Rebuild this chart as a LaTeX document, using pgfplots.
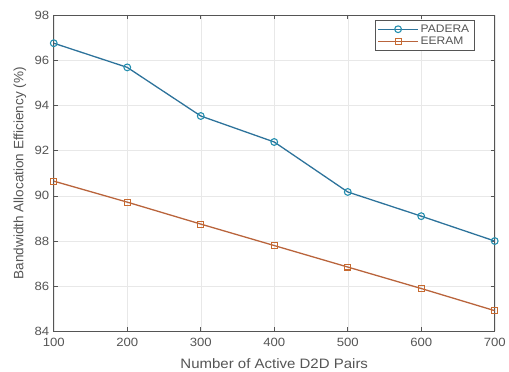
\documentclass[border=0pt]{standalone}
\usepackage{pgfplots}
\pgfplotsset{compat=1.18}
\usepackage{fontspec}
\setmainfont{Liberation Sans}[FakeStretch=1.1]
\newfontfamily\yfont{Liberation Sans}
\definecolor{mblue}{RGB}{45,115,155}
\definecolor{morange}{RGB}{185,100,60}
\definecolor{tickgray}{RGB}{85,85,85}
\begin{document}
\begin{tikzpicture}
\begin{axis}[
  scale only axis,
  width=443pt, height=318pt,
  xmin=100, xmax=700, ymin=84, ymax=98,
  xtick={100,200,...,700}, ytick={84,86,...,98},
  grid=major,
  grid style={draw=gray!18, line width=0.4pt},
  axis line style={draw=tickgray, line width=0.6pt},
  tick style={draw=tickgray, line width=0.6pt},
  major tick length=4pt,
  tick align=inside,
  ticklabel style={font=\fontsize{12}{14}\selectfont, text=tickgray},
  xticklabel style={yshift=-3.5pt},
  yticklabel style={xshift=-1pt},
  /pgf/number format/assume math mode=true,
  xlabel={Number of Active D2D Pairs},
  ylabel={\yfont\fontsize{13.6}{15}\selectfont Bandwidth Allocation Efficiency (\%)},
  label style={font=\fontsize{13.7}{15}\selectfont, text=tickgray},
  xlabel style={at={(axis description cs:0.5,-0.1)}, anchor=center},
  ylabel style={at={(axis description cs:-0.077,0.5)}, anchor=center},
  legend style={at={(0.953,0.984)}, anchor=north east, font=\fontsize{11}{12}\selectfont,
    draw=tickgray, line width=0.5pt, row sep=-1pt, inner sep=2.5pt, text=tickgray},
  legend cell align=left,
  legend image code/.code={%
    \draw[mark repeat=2,mark phase=2] plot coordinates {(0pt,0pt) (20pt,0pt) (40pt,0pt)};},
]
\addplot[color=mblue, line width=1.3pt, mark=o, mark size=3.4pt, mark options={line width=1.1pt, draw=mblue!80!cyan}]
  coordinates {(100,96.75) (200,95.68) (300,93.53) (400,92.38) (500,90.17) (600,89.10) (700,88.00)};
\addlegendentry{PADERA}
\addplot[color=morange, line width=1.3pt, mark=square, mark size=3pt, mark options={line width=1.1pt, draw=morange!80!orange}]
  coordinates {(100,90.65) (200,89.72) (300,88.75) (400,87.80) (500,86.85) (600,85.90) (700,84.92)};
\addlegendentry{EERAM}
\end{axis}
\path (current axis.south west) ++(-54pt,-40pt);
\path (current axis.north east) ++(12pt,15pt);
\end{tikzpicture}
\end{document}
